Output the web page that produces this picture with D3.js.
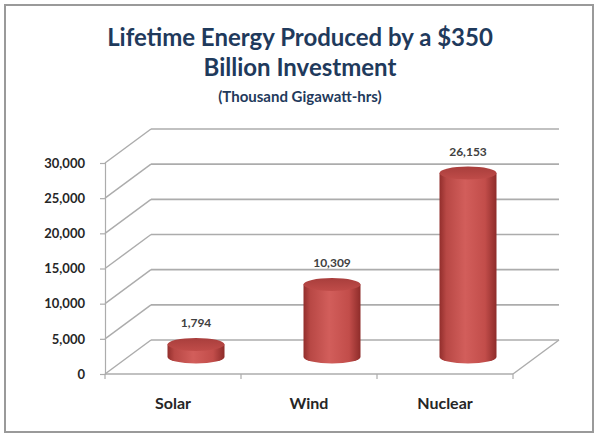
<!DOCTYPE html>
<html>
<head>
<meta charset="utf-8">
<script src="https://cdn.jsdelivr.net/npm/d3@7"></script>
<style>
  body { margin: 0; background: #fff; }
  text { font-family: Lato, "Open Sans", sans-serif; font-weight: bold; }
</style>
</head>
<body>
<div id="chart"></div>
<script>
'use strict'

const categories = ['Solar', 'Wind', 'Nuclear']
const energy = [1794, 10309, 26153]
const yTicks = [0, 5000, 10000, 15000, 20000, 25000, 30000]
const titleLines = ['Lifetime Energy Produced by a $350', 'Billion Investment']
const subtitle = '(Thousand Gigawatt-hrs)'

const width = 600
const height = 438
const depth = { dx: 46, dy: -34 }

const svg = d3.select('#chart').append('svg')
  .attr('width', width)
  .attr('height', height)

// frame
svg.append('rect')
  .attr('x', 5).attr('y', 5)
  .attr('width', 588).attr('height', 427)
  .attr('fill', 'none')
  .attr('stroke', '#9a9a9a')
  .attr('stroke-width', 2)

// titles
svg.append('g').selectAll('text')
  .data(titleLines)
  .enter()
  .append('text')
  .attr('x', 300)
  .attr('y', (d, i) => 46 + i * 30)
  .attr('text-anchor', 'middle')
  .attr('font-size', 24)
  .attr('fill', '#1f3a5c')
  .text(d => d)

svg.append('text')
  .attr('x', 300)
  .attr('y', 102)
  .attr('text-anchor', 'middle')
  .attr('font-size', 15)
  .attr('fill', '#1f3a5c')
  .text(subtitle)

const x = d3.scaleBand().domain(categories).range([105, 513])
const y = d3.scaleLinear().domain([0, 30000]).range([374, 163])

const gridColor = '#acacac'

// back wall gridlines and side diagonals
const grid = svg.append('g').attr('class', 'grid')
grid.selectAll('line.diag')
  .data(yTicks)
  .enter()
  .append('line')
  .attr('class', 'diag')
  .attr('x1', x.range()[0]).attr('y1', d => y(d))
  .attr('x2', x.range()[0] + depth.dx).attr('y2', d => y(d) + depth.dy)
  .attr('stroke', gridColor).attr('stroke-width', 1.4)
grid.selectAll('line.back')
  .data(yTicks)
  .enter()
  .append('line')
  .attr('class', 'back')
  .attr('x1', x.range()[0] + depth.dx).attr('y1', d => y(d) + depth.dy)
  .attr('x2', x.range()[1] + depth.dx).attr('y2', d => y(d) + depth.dy)
  .attr('stroke', gridColor).attr('stroke-width', 1.7)

// floor front edge and right diagonal
grid.append('line')
  .attr('x1', x.range()[0]).attr('y1', y(0))
  .attr('x2', x.range()[1]).attr('y2', y(0))
  .attr('stroke', gridColor).attr('stroke-width', 1.5)
grid.append('line')
  .attr('x1', x.range()[1]).attr('y1', y(0))
  .attr('x2', x.range()[1] + depth.dx).attr('y2', y(0) + depth.dy)
  .attr('stroke', gridColor).attr('stroke-width', 1.4)

// category ticks
const bounds = categories.map(c => x(c)).concat([x.range()[1]])
grid.selectAll('line.ctick')
  .data(bounds)
  .enter()
  .append('line')
  .attr('class', 'ctick')
  .attr('x1', d => d).attr('x2', d => d)
  .attr('y1', y(0)).attr('y2', y(0) + 5)
  .attr('stroke', gridColor).attr('stroke-width', 1.2)

// value axis
const yAxis = svg.append('g')
  .attr('transform', `translate(${x.range()[0]},0)`)
  .call(d3.axisLeft(y).tickValues(yTicks).tickSize(5).tickPadding(15)
    .tickFormat(d3.format(',')))
yAxis.select('.domain').attr('stroke', gridColor).attr('stroke-width', 1.2)
yAxis.selectAll('.tick line').attr('stroke', gridColor).attr('stroke-width', 1.2)
yAxis.selectAll('.tick text')
  .attr('font-size', 13)
  .attr('fill', '#262626')
  .attr('font-family', 'Lato, "Open Sans", sans-serif')

// category labels
svg.append('g').selectAll('text')
  .data(categories)
  .enter()
  .append('text')
  .attr('x', d => x(d) + x.bandwidth() / 2)
  .attr('y', 409)
  .attr('text-anchor', 'middle')
  .attr('font-size', 16)
  .attr('fill', '#262626')
  .text(d => d)

// cylinder shading
const defs = svg.append('defs')
const bodyGrad = defs.append('linearGradient').attr('id', 'body')
bodyGrad.selectAll('stop')
  .data([['0%', '#922e2c'], ['12%', '#b84845'], ['45%', '#d25e5b'], ['80%', '#c24d4a'], ['100%', '#8e2c2a']])
  .enter().append('stop')
  .attr('offset', d => d[0]).attr('stop-color', d => d[1])
const topGrad = defs.append('linearGradient').attr('id', 'top')
  .attr('x1', 0).attr('y1', 0).attr('x2', 0).attr('y2', 1)
topGrad.selectAll('stop')
  .data([['0%', '#a83e3c'], ['100%', '#c04c49']])
  .enter().append('stop')
  .attr('offset', d => d[0]).attr('stop-color', d => d[1])

const rx = 28.5
const ry = 6.5
const cylData = categories.map((c, i) => ({
  name: c,
  value: energy[i],
  cx: x(c) + x.bandwidth() / 2 + depth.dx / 2,
  base: y(0) + depth.dy / 2,
  top: y(energy[i]) + depth.dy / 2
}))

const cyl = svg.append('g').attr('class', 'cylinders')
  .selectAll('g')
  .data(cylData)
  .enter()
  .append('g')

cyl.append('path')
  .attr('d', d => `M${d.cx - rx},${d.top} L${d.cx - rx},${d.base} ` +
    `A${rx},${ry} 0 0 0 ${d.cx + rx},${d.base} L${d.cx + rx},${d.top} Z`)
  .attr('fill', 'url(#body)')

cyl.append('ellipse')
  .attr('cx', d => d.cx)
  .attr('cy', d => d.top)
  .attr('rx', rx)
  .attr('ry', ry)
  .attr('fill', 'url(#top)')

cyl.append('text')
  .attr('x', d => d.cx)
  .attr('y', d => d.top - ry - 11)
  .attr('text-anchor', 'middle')
  .attr('font-size', 12)
  .attr('fill', '#404040')
  .text(d => d3.format(',')(d.value))
</script>
</body>
</html>
